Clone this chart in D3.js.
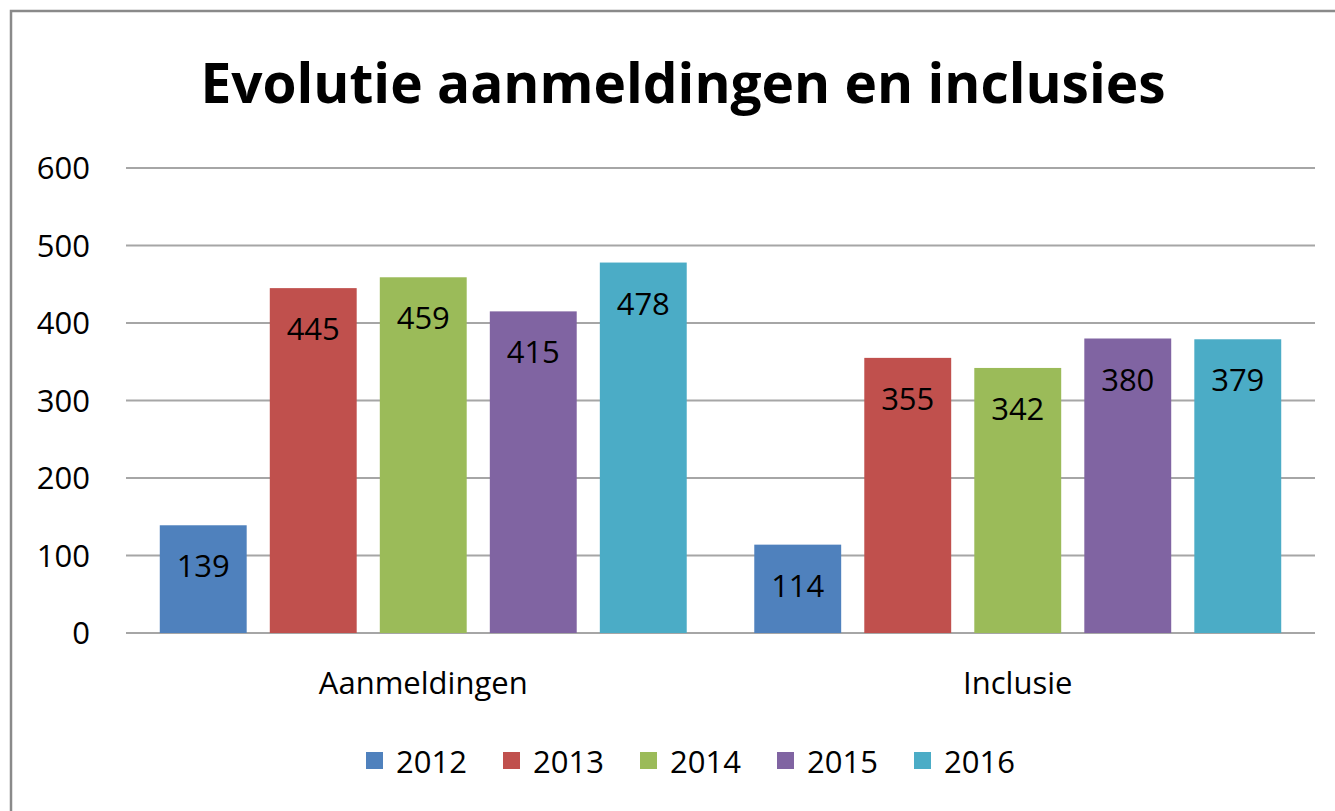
<!DOCTYPE html>
<html>
<head>
<meta charset="utf-8">
<script src="https://cdn.jsdelivr.net/npm/d3@7"></script>
<style>
  body { margin: 0; background: #fff; }
  text { font-family: "Open Sans", "Liberation Sans", sans-serif; fill: #000; }
</style>
</head>
<body>
<svg width="1335" height="811"></svg>
<script>
var categories = ["Aanmeldingen", "Inclusie"];
var years = ["2012", "2013", "2014", "2015", "2016"];
var values2012 = [139, 114];
var values2013 = [445, 355];
var values2014 = [459, 342];
var values2015 = [415, 380];
var values2016 = [478, 379];
var yTicks = [0, 100, 200, 300, 400, 500, 600];
var colors = ["#4f81bd", "#c0504d", "#9bbb59", "#8064a2", "#4bacc6"];

var series = [values2012, values2013, values2014, values2015, values2016];
var rows = categories.map(function(c, i) {
  return { cat: c, vals: years.map(function(y, j) { return { year: y, value: series[j][i] }; }) };
});

var svg = d3.select("svg"),
    margin = {top: 168, right: 20, bottom: 178, left: 126},
    width = 1315 - margin.left,
    height = 633 - margin.top;

// chart frame
svg.append("rect")
    .attr("x", 11).attr("y", 11)
    .attr("width", 1400).attr("height", 900)
    .attr("fill", "none")
    .attr("stroke", "#8a8a8a")
    .attr("stroke-width", 2.5);

svg.append("text")
    .attr("x", 683).attr("y", 103)
    .attr("text-anchor", "middle")
    .attr("font-size", 55)
    .attr("font-weight", "bold")
    .text("Evolutie aanmeldingen en inclusies");

var g = svg.append("g").attr("transform", "translate(" + margin.left + "," + margin.top + ")");

var x0 = d3.scaleBand().domain(categories).range([0, width]);
var x1 = d3.scaleBand().domain(years).range([0, x0.bandwidth()])
    .paddingInner(0.21).paddingOuter(0.307);
var y = d3.scaleLinear().domain([0, 600]).range([height, 0]);
var color = d3.scaleOrdinal().domain(years).range(colors);

// gridlines
g.selectAll(".grid")
  .data(yTicks)
  .enter().append("line")
    .attr("x1", 0).attr("x2", width)
    .attr("y1", function(d) { return y(d); })
    .attr("y2", function(d) { return y(d); })
    .attr("stroke", "#a6a6a6")
    .attr("stroke-width", 2);

// y tick labels
g.selectAll(".ytick")
  .data(yTicks)
  .enter().append("text")
    .attr("x", -36)
    .attr("y", function(d) { return y(d); })
    .attr("dy", "0.36em")
    .attr("text-anchor", "end")
    .attr("font-size", 31)
    .text(function(d) { return d; });

var group = g.selectAll(".group")
  .data(rows)
  .enter().append("g")
    .attr("transform", function(d) { return "translate(" + x0(d.cat) + ",0)"; });

group.selectAll("rect")
  .data(function(d) { return d.vals; })
  .enter().append("rect")
    .attr("x", function(d) { return x1(d.year); })
    .attr("y", function(d) { return y(d.value); })
    .attr("width", x1.bandwidth())
    .attr("height", function(d) { return height - y(d.value); })
    .attr("fill", function(d) { return color(d.year); });

group.selectAll(".lbl")
  .data(function(d) { return d.vals; })
  .enter().append("text")
    .attr("x", function(d) { return x1(d.year) + x1.bandwidth() / 2; })
    .attr("y", function(d) { return y(d.value) + 52; })
    .attr("text-anchor", "middle")
    .attr("font-size", 31)
    .text(function(d) { return d.value; });

// category labels
g.selectAll(".cat")
  .data(categories)
  .enter().append("text")
    .attr("x", function(d) { return x0(d) + x0.bandwidth() / 2; })
    .attr("y", height + 61)
    .attr("text-anchor", "middle")
    .attr("font-size", 31)
    .text(function(d) { return d; });

// legend
var legend = svg.append("g").attr("transform", "translate(366,773)");
var item = legend.selectAll(".item")
  .data(years)
  .enter().append("g")
    .attr("transform", function(d, i) { return "translate(" + i * 137 + ",0)"; });
item.append("rect")
    .attr("x", 0).attr("y", -21)
    .attr("width", 17).attr("height", 17)
    .attr("fill", function(d) { return color(d); });
item.append("text")
    .attr("x", 30).attr("y", 0)
    .attr("font-size", 31)
    .text(function(d) { return d; });
</script>
</body>
</html>
